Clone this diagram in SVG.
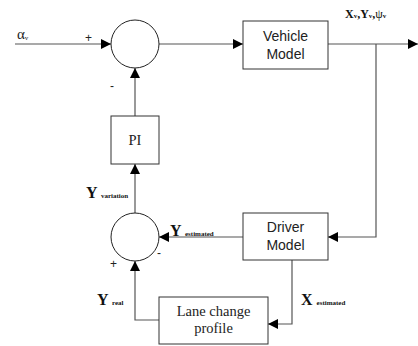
<svg xmlns="http://www.w3.org/2000/svg" width="418" height="346" viewBox="0 0 418 346">
<style>
.box{fill:#fff;stroke:#333;stroke-width:1}
.sum{fill:#fff;stroke:#222;stroke-width:1}
.ln{fill:none;stroke:#555;stroke-width:1.2}
.sans{font-family:"Liberation Sans",Arial,sans-serif;font-size:14px;fill:#222;text-anchor:middle}
.serif{font-family:"Liberation Serif","Times New Roman",serif;font-size:14.5px;fill:#222;text-anchor:middle}
.lbl{font-family:"Liberation Serif","Times New Roman",serif;font-weight:bold;font-size:16px;fill:#111}
.sub{font-size:7px}
.sgn{font-family:"Liberation Sans",Arial,sans-serif;font-size:12px;fill:#222}
</style>
<defs>
<marker id="ah" viewBox="0 0 10 10" refX="10" refY="5" markerWidth="10" markerHeight="10" markerUnits="userSpaceOnUse" orient="auto">
<path d="M0,0 L10,5 L0,10 z" fill="#000"/>
</marker>
</defs>
<g id="connectors">
<path class="ln" d="M15,44 H111" marker-end="url(#ah)"/>
<path class="ln" d="M159,44 H243" marker-end="url(#ah)"/>
<path class="ln" d="M328,44 H418" marker-end="url(#ah)"/>
<path class="ln" d="M376,44 V237 H328" marker-end="url(#ah)"/>
<path class="ln" d="M135,116 V68" marker-end="url(#ah)"/>
<path class="ln" d="M135,213 V164" marker-end="url(#ah)"/>
<path class="ln" d="M243,237 H159" marker-end="url(#ah)"/>
<path class="ln" d="M292,260 V324 H268" marker-end="url(#ah)"/>
<path class="ln" d="M159,320 H135 V261" marker-end="url(#ah)"/>
</g>
<g id="sum1"><circle class="sum" cx="135" cy="44" r="24"/></g>
<g id="vehicle"><rect class="box" x="243" y="21" width="85" height="48"/>
<text class="sans" x="285.5" y="41">Vehicle</text><text class="sans" x="285.5" y="59">Model</text></g>
<g id="pi"><rect class="box" x="111" y="116" width="48" height="48"/>
<text class="serif" x="135" y="145">PI</text></g>
<g id="sum2"><circle class="sum" cx="135" cy="237" r="24"/></g>
<g id="driver"><rect class="box" x="243" y="213" width="85" height="47"/>
<text class="sans" x="285.5" y="232">Driver</text><text class="sans" x="285.5" y="250">Model</text></g>
<g id="lane"><rect class="box" x="159" y="297" width="109" height="47"/>
<text class="serif" x="213.5" y="316">Lane change</text><text class="serif" x="213.5" y="333">profile</text></g>
<g id="labels">
<text x="17" y="39" style="font-family:'Liberation Serif',serif;font-size:15px;fill:#222">α<tspan style="font-size:7px" dy="1">v</tspan></text>
<text class="sgn" x="85" y="42">+</text>
<text class="sgn" x="110" y="90">-</text>
<text class="lbl" x="345" y="18" style="font-size:12px">X<tspan class="sub">v</tspan>,Y<tspan class="sub">v</tspan>,<tspan font-weight="normal">ψ</tspan><tspan class="sub">v</tspan></text>
<text class="lbl" x="86" y="198">Y <tspan class="sub">variation</tspan></text>
<text class="lbl" x="170" y="236">Y <tspan class="sub">estimated</tspan></text>
<text class="sgn" x="157" y="257">-</text>
<text class="sgn" x="110" y="268">+</text>
<text class="lbl" x="97" y="305">Y <tspan class="sub">real</tspan></text>
<text class="lbl" x="301" y="305">X <tspan class="sub">estimated</tspan></text>
</g>
</svg>
